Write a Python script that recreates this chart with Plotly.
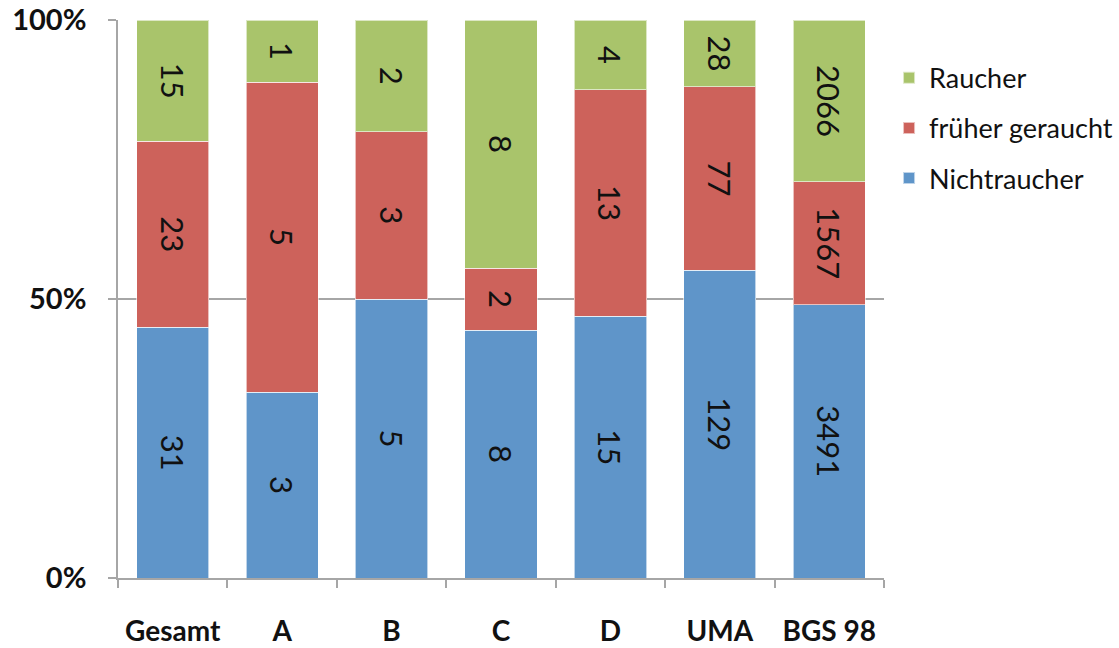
import plotly.graph_objects as go

groups = ["Gesamt", "A", "B", "C", "D", "UMA", "BGS 98"]
nichtraucher = [31, 3, 5, 8, 15, 129, 3491]
frueher = [23, 5, 3, 2, 13, 77, 1567]
raucher = [15, 1, 2, 8, 4, 28, 2066]

# (name, values, colour, legend rank) -- stacked bottom to top
series = [
    ("Nichtraucher", nichtraucher, "#5F95C9", 3),
    ("früher geraucht", frueher, "#CD625B", 2),
    ("Raucher", raucher, "#A9C46B", 1),
]

fig = go.Figure()
for name, vals, color, rank in series:
    fig.add_trace(go.Bar(
        x=groups, y=vals, name=name, legendgroup=name, legendrank=rank,
        marker=dict(color=color, line=dict(color="rgba(255,255,255,0.6)", width=1)),
        text=[str(v) for v in vals],
        texttemplate="%{text}",
        textposition="inside",
        insidetextanchor="middle",
        textangle=90,
        textfont=dict(family="Lato", size=31, color="#111111"),
        hoverinfo="skip",
    ))

fig.update_layout(
    barmode="stack",
    barnorm="percent",
    bargap=0.34,
    width=1119, height=648,
    margin=dict(l=118, r=235, t=20, b=70),
    paper_bgcolor="white",
    plot_bgcolor="white",
    font=dict(family="Lato", color="#111111"),
    legend=dict(
        xref="container", yref="container",
        x=0.7945, y=0.917, xanchor="left", yanchor="top",
        traceorder="grouped",
        tracegroupgap=12,
        font=dict(family="Lato", size=27, color="#111111"),
        itemwidth=30,
        itemsizing="constant",
    ),
    uniformtext=dict(mode=False),
)

fig.update_xaxes(
    automargin=False,
    tickangle=0,
    showgrid=False,
    showline=True, linecolor="#A6A6A6", linewidth=1.5,
    ticks="outside", ticklen=8, tickcolor="#A6A6A6", tickwidth=1.5,
    tickson="boundaries",
    tickfont=dict(family="Lato", size=28, color="#111111", weight="bold"),
    ticklabelstandoff=28,
)

fig.update_yaxes(
    automargin=False,
    range=[0, 100],
    tickvals=[0, 50, 100],
    ticktext=["0%", "50%", "100%"],
    showgrid=True, gridcolor="#A6A6A6", gridwidth=1.5,
    showline=True, linecolor="#A6A6A6", linewidth=1.5,
    ticks="outside", ticklen=8, tickcolor="#A6A6A6", tickwidth=1.5,
    tickfont=dict(family="Lato", size=29, color="#111111", weight="bold"),
    ticklabelstandoff=16,
    zeroline=False,
)

fig.write_html("out.html")
